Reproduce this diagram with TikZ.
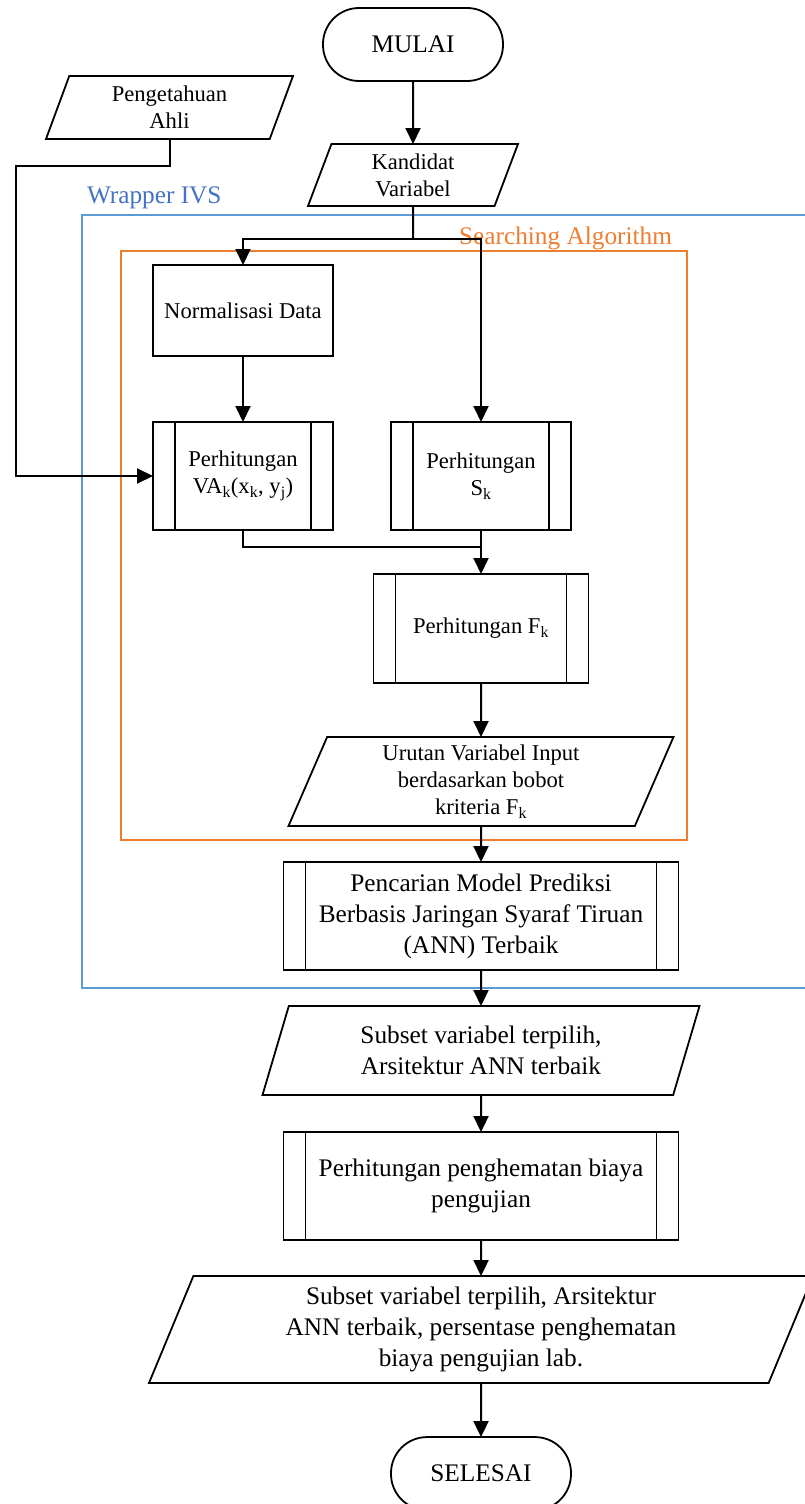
\documentclass[tikz,border=0pt]{standalone}
\usepackage{fontspec}
\setmainfont{Liberation Serif}
\usepackage{tikz}
\usetikzlibrary{arrows.meta, positioning, shapes.geometric}

\definecolor{wrapblue}{HTML}{5B9BD5}
\definecolor{wraptext}{HTML}{4472C4}
\definecolor{searchorange}{HTML}{ED7D31}
\newcommand{\fntsmall}{\fontsize{22.6pt}{27pt}\selectfont}
\newcommand{\fntbig}{\fontsize{25.3pt}{31pt}\selectfont}

\begin{document}
\begin{tikzpicture}[
x=1pt, y=1pt,
every node/.style={
align=center,
inner sep=2pt,
outer sep=0pt,
font=\fntsmall
},
boxline/.style={line width=1.8pt},
termbox/.style={draw, rectangle, boxline, rounded corners=36pt,
minimum width=180pt, minimum height=73pt, font=\fntbig},
iobox/.style={draw, trapezium, boxline, trapezium left angle=63.5,
trapezium right angle=116.5, trapezium stretches body},
procbox/.style={draw, rectangle, boxline},
subbox/.style={draw, rectangle, boxline, minimum height=108pt},
frame/.style={line width=2pt},
flow/.style={line width=2pt},
arrow/.style={flow, -{Triangle[length=16pt, width=15pt]}}
]
\useasboundingbox (0,0) rectangle (804,-1504);

% frames
\draw[frame, wrapblue] (82,-215) rectangle (830,-988);
\draw[frame, searchorange] (121,-251) rectangle (687,-840);
\node (wraplabel) [anchor=base west, inner sep=0pt, font=\fntbig, text=wraptext] at (87,-203) {Wrapper IVS};
\node (searchlabel) [anchor=base east, inner sep=0pt, font=\fntbig, text=searchorange] at (672,-244.5) {Searching Algorithm};

% nodes
\node (mulai) [termbox] at (413,-44.5) {MULAI};
\node (ahli) [iobox, minimum width=247pt, minimum height=63pt] at (169.5,-107.5) {Pengetahuan\\Ahli};
\node (kandidat) [iobox, minimum width=210pt, minimum height=62pt, below=63pt of mulai] {Kandidat\\Variabel};

\node (normal) [procbox, minimum width=180pt, minimum height=91pt] at (243,-310.5) {Normalisasi Data};
\node (vahit) [subbox, minimum width=180pt, below=66pt of normal] {Perhitungan\\VA\textsubscript{k}(x\textsubscript{k}, y\textsubscript{j})};
\node (shit) [subbox, minimum width=180pt, right=58pt of vahit] {Perhitungan\\S\textsubscript{k}};
\node (fhit) [subbox, minimum width=215pt, minimum height=109pt, below=44pt of shit] {Perhitungan F\textsubscript{k}};
\node (urutan) [iobox, minimum width=385pt, minimum height=89pt, below=54pt of fhit] {Urutan Variabel Input\\berdasarkan bobot\\kriteria F\textsubscript{k}};

\node (cari) [subbox, minimum width=395pt, font=\fntbig, below=36pt of urutan] {Pencarian Model Prediksi\\Berbasis Jaringan Syaraf Tiruan\\(ANN) Terbaik};
\node (subset) [iobox, minimum width=437pt, minimum height=89pt, font=\fntbig, below=36pt of cari] {Subset variabel terpilih,\\Arsitektur ANN terbaik};
\node (hemat) [subbox, minimum width=395pt, font=\fntbig, below=37pt of subset] {Perhitungan penghematan biaya\\pengujian};
\node (hasil) [iobox, minimum width=664pt, minimum height=107pt, font=\fntbig, below=36pt of hemat] {Subset variabel terpilih, Arsitektur\\ANN terbaik, persentase penghematan\\biaya pengujian lab.};
\node (selesai) [termbox, below=54pt of hasil] {SELESAI};

% side bars of the predefined processes
\foreach \n in {vahit, shit, fhit, cari, hemat} {
\draw[boxline] ([xshift=22pt]\n.north west) -- ([xshift=22pt]\n.south west);
\draw[boxline] ([xshift=-22pt]\n.north east) -- ([xshift=-22pt]\n.south east);
}

% bends
\coordinate (split) at ([yshift=-33pt]kandidat.south);
\coordinate (ahlibend) at (16,-166);
\coordinate (join) at ([yshift=-17pt]shit.south);

% connectors
\draw[arrow] (mulai) -- (kandidat);
\draw[flow] (kandidat) -- (split);
\draw[arrow] (split) -| (normal);
\draw[arrow] (split) -| (shit);
\draw[arrow] (normal) -- (vahit);
\draw[arrow] (ahli) |- (ahlibend) |- (vahit);
\draw[flow] (vahit) |- (join);
\draw[arrow] (shit) -- (fhit);
\draw[arrow] (fhit) -- (urutan);
\draw[arrow] (urutan) -- (cari);
\draw[arrow] (cari) -- (subset);
\draw[arrow] (subset) -- (hemat);
\draw[arrow] (hemat) -- (hasil);
\draw[arrow] (hasil) -- (selesai);

\end{tikzpicture}
\end{document}
